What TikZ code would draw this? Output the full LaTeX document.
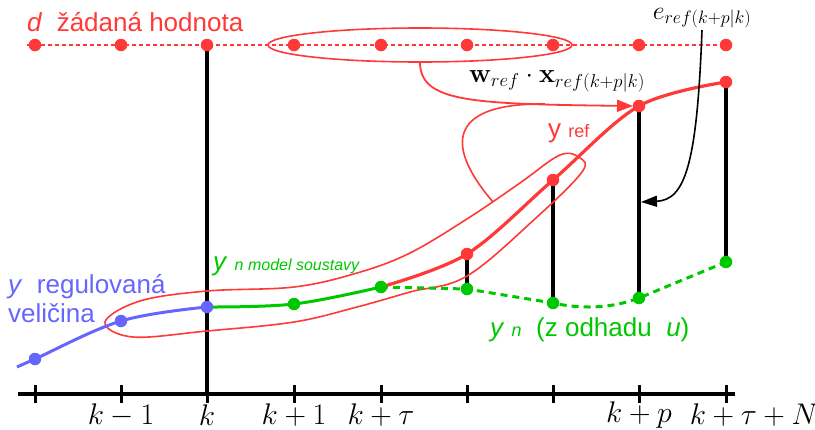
\documentclass[tikz,border=0pt]{standalone}
\usepackage[no-math]{fontspec}
\setmainfont{Liberation Sans}
\usetikzlibrary{arrows.meta,calc}
\definecolor{cred}{RGB}{255,56,56}
\definecolor{cgreen}{RGB}{0,200,0}
\definecolor{cblue}{RGB}{102,102,255}
\newcommand{\bigmath}[2]{\scalebox{#1}{\fontsize{24}{28}\selectfont$#2$}}
\tikzset{
  dotr/.style={circle,fill=cred,inner sep=0pt,minimum size=12.5pt},
  dotg/.style={circle,fill=cgreen,inner sep=0pt,minimum size=12.5pt},
  dotb/.style={circle,fill=cblue,inner sep=0pt,minimum size=12.5pt},
  stem/.style={line width=3.2pt,black},
  axisline/.style={line width=3.2pt,black},
  tickmark/.style={line width=3pt,black},
  mathlbl/.style={inner sep=0pt},
  biglbl/.style={inner sep=0pt,anchor=base west,font=\fontsize{26}{30}\selectfont},
  thinred/.style={cred,line width=1.6pt},
}
\begin{document}
\begin{tikzpicture}[x=1pt,y=-1pt]
\useasboundingbox (0,0) rectangle (815,429);
% positions
\foreach \i/\x in {1/35,2/121,3/207,4/294,5/381,6/467,7/553,8/639,9/726}{
  \coordinate (d\i) at (\x,45);
  \coordinate (t\i) at (\x,394);
}
\coordinate (b1) at (35,359);
\coordinate (b2) at (121,321);
\coordinate (b3) at (207,307);
\coordinate (g1) at (294,304);
\coordinate (g2) at (381,287);
\coordinate (n1) at (467,289);
\coordinate (n2) at (553,303);
\coordinate (n3) at (639,298);
\coordinate (n4) at (726,262);
\coordinate (r1) at (467,254);
\coordinate (r2) at (553,180);
\coordinate (r3) at (639,106);
\coordinate (r4) at (726,82);
\coordinate (axl) at (18,394);
\coordinate (axr) at (735,394);

% setpoint dotted line
\draw[cred,line width=1.8pt,dash pattern=on 4pt off 3pt] (27,45) -- (d9);
% ellipse around setpoint samples
\draw[thinred] (420,45) ellipse [x radius=152, y radius=17];

% axis
\draw[axisline] (axl) -- (axr);
\foreach \i in {1,...,9}{ \draw[tickmark] ($(t\i)+(0,-9)$) -- ($(t\i)+(0,9)$); }

% vertical lines
\draw[stem] (d3) -- (t3);
\draw[stem] (r1) -- (n1);
\draw[stem] (r2) -- (n2);
\draw[stem] (r3) -- (n3);
\draw[stem] (r4) -- (n4);

% tube around trajectory
\draw[thinred] plot[smooth cycle,tension=0.6] coordinates {
  (105,322) (140,301) (207,291) (294,287) (357,273) (410,253) (470,217)
  (520,183) (560,155) (580,158) (582,172) (537,217) (467,276) (410,292)
  (357,307) (294,322) (207,331) (133,337)};
% loop from tube to arrow
\draw[thinred] (493,202) .. controls (440,140) and (455,103) .. (545,104);
% w_ref arrow
\draw[cred,line width=1.8pt,-{Triangle[length=16pt,width=12pt]}] (420,62) .. controls (420,102) and (470,104) .. (633,106);

% blue measured output
\draw[cblue,line width=3pt] plot[smooth,tension=0.6] coordinates {(17,367) (b1) (b2) (b3)};
% green model
\draw[cgreen,line width=3pt] plot[smooth,tension=0.6] coordinates {(b3) (g1) (g2)};
\draw[cgreen,line width=3pt,dash pattern=on 7pt off 5pt] (g2) -- (n1) -- (n2) .. controls (580,309) and (610,309) .. (n3) -- (n4);
% red reference trajectory
\draw[cred,line width=3.2pt] plot[smooth,tension=0.55] coordinates {(g2) (r1) (r2) (r3) (r4)};

% e_ref arrow
\draw[black,line width=1.6pt,-{Triangle[length=16pt,width=11pt]}] (702,30) .. controls (697,165) and (685,200) .. (641,202);

% dots
\foreach \i in {1,...,9}{ \node[dotr] (dd\i) at (d\i) {}; }
\node[dotb] (bb1) at (b1) {};
\node[dotb] (bb2) at (b2) {};
\node[dotb] (bb3) at (b3) {};
\node[dotg] (gg1) at (g1) {};
\node[dotg] (gg2) at (g2) {};
\node[dotg] (nn1) at (n1) {};
\node[dotg] (nn2) at (n2) {};
\node[dotg] (nn3) at (n3) {};
\node[dotg] (nn4) at (n4) {};
\node[dotr] (rr1) at (r1) {};
\node[dotr] (rr2) at (r2) {};
\node[dotr] (rr3) at (r3) {};
\node[dotr] (rr4) at (r4) {};

% axis labels
\node[mathlbl] (lk1) at (121,415) {\bigmath{1.2}{k-1}};
\node[mathlbl] (lk) at (207,415) {\bigmath{1.2}{k}};
\node[mathlbl] (lk2) at (294,415) {\bigmath{1.2}{k+1}};
\node[mathlbl] (lk3) at (381,415) {\bigmath{1.2}{k+\tau}};
\node[mathlbl] (lk4) at (639,415) {\bigmath{1.2}{k+p}};
\node[mathlbl] (lk5) at (754,415) {\bigmath{1.2}{k+\tau+N}};

% text labels
\node[biglbl,text=cred] (ld) at (27,31) {\textit{d}\ \ žádaná hodnota};
\node[biglbl,text=cblue] (ly) at (8,293) {\textit{y}\ \ regulovaná};
\node[biglbl,text=cblue] (ly2) at (8,322) {veličina};
\node[biglbl,text=cgreen] (lyn) at (213,270) {\textit{y}\ {\fontsize{16}{18}\selectfont\itshape n model soustavy}};
\node[biglbl,text=cred] (lyr) at (548,137) {y {\fontsize{18}{20}\selectfont ref}};
\node[biglbl,text=cgreen] (lyo) at (490,336) {\textit{y} {\fontsize{18}{20}\selectfont\itshape n}\ \ (z odhadu\ \ \textit{u})};
\node[inner sep=0pt] (lw) at (557,81) {\bigmath{1.08}{\mathbf{w}_{ref}\cdot\mathbf{x}_{ref(k+p|k)}}};
\node[inner sep=0pt,fill=white,fill opacity=0.8,text opacity=1] (le) at (702,18) {\bigmath{1.04}{e_{ref(k+p|k)}}};
\end{tikzpicture}
\end{document}
